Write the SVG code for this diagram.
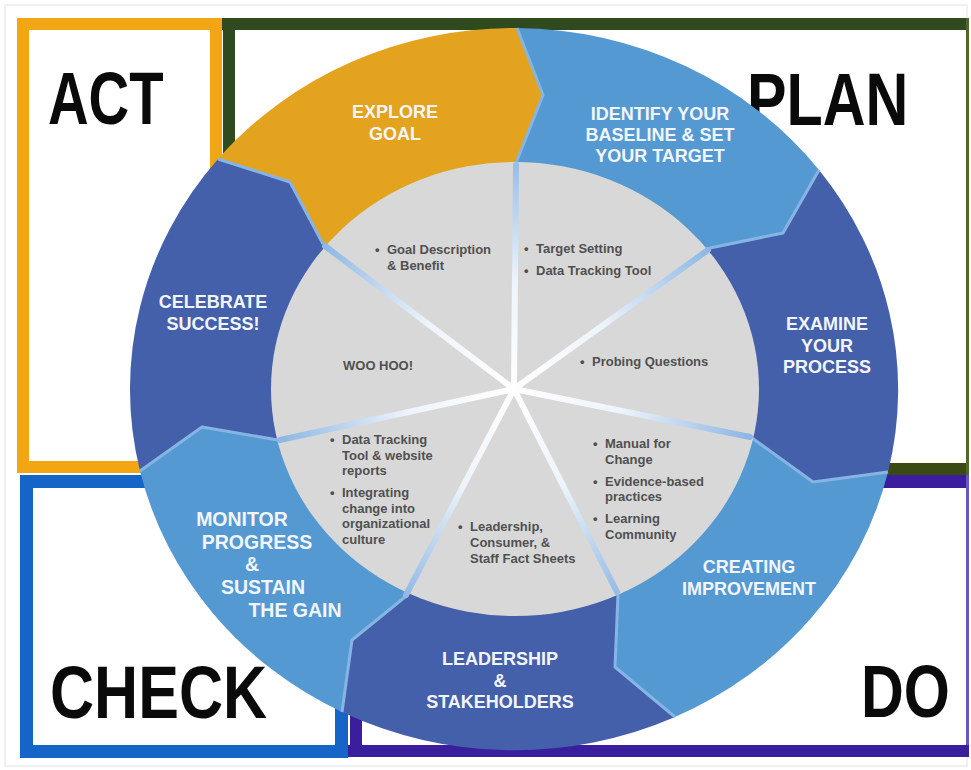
<svg xmlns="http://www.w3.org/2000/svg" width="971" height="770" viewBox="0 0 971 770">
<defs>
<radialGradient id="spokeGrad" gradientUnits="userSpaceOnUse" cx="514" cy="389" r="240">
<stop offset="0" stop-color="#ffffff"/>
<stop offset="0.45" stop-color="#eef4fb"/>
<stop offset="1" stop-color="#8db6e4"/>
</radialGradient>
<style>
.gold{fill:#E3A31F}
.lb{fill:#5599D3}
.db{fill:#4460AB}
.bnd{fill:none;stroke:#86b5e4;stroke-width:3;stroke-linejoin:round}
.spoke{stroke:url(#spokeGrad);stroke-width:6;stroke-linecap:round}
.big{font-family:"Liberation Sans",Arial,sans-serif;font-weight:bold;font-size:75px;fill:#0a0a0a}
.seg{font-family:"Liberation Sans",Arial,sans-serif;font-weight:bold;font-size:18px;fill:#f2f6fb;text-anchor:middle}
.mon{font-size:19.5px}
.in{font-family:"Liberation Sans",Arial,sans-serif;font-weight:bold;font-size:13px;fill:#505050}
</style>
</defs>
<rect x="0" y="0" width="971" height="770" fill="#ffffff"/>
<rect x="5" y="5" width="962" height="761" fill="none" stroke="#ececec" stroke-width="1.5"/>

<g id="frame">
<rect x="23" y="24" width="193" height="443" fill="none" stroke="#F2A614" stroke-width="12"/>
<rect x="222" y="18" width="747" height="12" fill="#2E4A1E"/>
<rect x="223" y="18" width="12" height="160" fill="#2E4A1E"/>
<rect x="840" y="463" width="129" height="12" fill="#3A4A14"/>
<rect x="966" y="18" width="3" height="457" fill="#4B6A2A"/>
<rect x="840" y="475" width="129" height="13" fill="#3B1E9E"/>
<rect x="966" y="475" width="3" height="282" fill="#6A55C8"/>
<rect x="345" y="745" width="624" height="12" fill="#3B1E9E"/>
<rect x="350" y="690" width="12" height="67" fill="#3B1E9E"/>
<rect x="20" y="475" width="160" height="13" fill="#1565C8"/>
<rect x="20" y="475" width="13" height="283" fill="#1565C8"/>
<rect x="20" y="745" width="328" height="13" fill="#1565C8"/>
<rect x="335" y="660" width="13" height="98" fill="#1565C8"/>
</g>

<g id="quadrant-labels">
<text class="big" transform="translate(48,124) scale(0.75,1)">ACT</text>
<text class="big" transform="translate(747,125) scale(0.79,1)">PLAN</text>
<text class="big" transform="translate(50,718) scale(0.814,1)">CHECK</text>
<text class="big" transform="translate(861,717) scale(0.79,1)">DO</text>
</g>

<g id="seg-explore">
<path class="gold" d="M514,389 L323,244 L290,182 L218,159 A384,361 0 0 1 517,28 L543,95 L516,163 Z"/>
<text class="seg" x="395" y="118">EXPLORE</text>
<text class="seg" x="395" y="140">GOAL</text>
</g>
<g id="seg-identify">
<path class="lb" d="M514,389 L516,163 L543,95 L517,28 A384,361 0 0 1 819,170 L783,233 L710,248 Z"/>
<text class="seg" x="660" y="120">IDENTIFY YOUR</text>
<text class="seg" x="660" y="141">BASELINE &amp; SET</text>
<text class="seg" x="660" y="162">YOUR TARGET</text>
</g>
<g id="seg-examine">
<path class="db" d="M514,389 L710,248 L783,233 L819,170 A384,361 0 0 1 888,472 L813,482 L752,438 Z"/>
<text class="seg" x="827" y="330">EXAMINE</text>
<text class="seg" x="827" y="352">YOUR</text>
<text class="seg" x="827" y="373">PROCESS</text>
</g>
<g id="seg-creating">
<path class="lb" d="M514,389 L752,438 L813,482 L888,472 A384,361 0 0 1 675,717 L615,667 L618,594 Z"/>
<text class="seg" x="749" y="573">CREATING</text>
<text class="seg" x="749" y="595">IMPROVEMENT</text>
</g>
<g id="seg-leadership">
<path class="db" d="M514,389 L618,594 L615,667 L675,717 A384,361 0 0 1 342,712 L352,640 L405,597 Z"/>
<text class="seg" x="500" y="665">LEADERSHIP</text>
<text class="seg" x="500" y="687">&amp;</text>
<text class="seg" x="500" y="708">STAKEHOLDERS</text>
</g>
<g id="seg-monitor">
<path class="lb" d="M514,389 L405,597 L352,640 L342,712 A384,361 0 0 1 140,471 L202,427 L278,440 Z"/>
<text class="seg mon" x="242" y="526">MONITOR</text>
<text class="seg mon" x="257" y="549">PROGRESS</text>
<text class="seg mon" x="252" y="571">&amp;</text>
<text class="seg mon" x="263" y="594">SUSTAIN</text>
<text class="seg mon" x="295" y="617">THE GAIN</text>
</g>
<g id="seg-celebrate">
<path class="db" d="M514,389 L278,440 L202,427 L140,471 A384,361 0 0 1 218,159 L290,182 L323,244 Z"/>
<text class="seg" x="213" y="308">CELEBRATE</text>
<text class="seg" x="213" y="330">SUCCESS!</text>
</g>

<g id="connectors">
<polyline class="bnd" points="516,163 543,95 517,28"/>
<polyline class="bnd" points="710,248 783,233 819,170"/>
<polyline class="bnd" points="752,438 813,482 888,472"/>
<polyline class="bnd" points="618,594 615,667 675,717"/>
<polyline class="bnd" points="405,597 352,640 342,712"/>
<polyline class="bnd" points="278,440 202,427 140,471"/>
<polyline class="bnd" points="323,244 290,182 218,159"/>
</g>

<g id="hub">
<ellipse cx="515" cy="389" rx="244" ry="227" fill="#D8D8D8"/>
<line class="spoke" x1="514" y1="389" x2="516" y2="165"/>
<line class="spoke" x1="514" y1="389" x2="708" y2="250"/>
<line class="spoke" x1="514" y1="389" x2="750" y2="437"/>
<line class="spoke" x1="514" y1="389" x2="617" y2="592"/>
<line class="spoke" x1="514" y1="389" x2="406" y2="595"/>
<line class="spoke" x1="514" y1="389" x2="280" y2="440"/>
<line class="spoke" x1="514" y1="389" x2="325" y2="246"/>
</g>

<g id="inner-text">
<text class="in" x="375" y="254">•</text>
<text class="in" x="387" y="254">Goal Description</text>
<text class="in" x="387" y="270">&amp; Benefit</text>

<text class="in" x="524" y="253">•</text>
<text class="in" x="536" y="253">Target Setting</text>
<text class="in" x="524" y="275">•</text>
<text class="in" x="536" y="275">Data Tracking Tool</text>

<text class="in" x="580" y="366">•</text>
<text class="in" x="592" y="366">Probing Questions</text>

<text class="in" x="343" y="370">WOO HOO!</text>

<text class="in" x="330" y="444">•</text>
<text class="in" x="342" y="444">Data Tracking</text>
<text class="in" x="342" y="460">Tool &amp; website</text>
<text class="in" x="342" y="475">reports</text>
<text class="in" x="330" y="497">•</text>
<text class="in" x="342" y="497">Integrating</text>
<text class="in" x="342" y="513">change into</text>
<text class="in" x="342" y="528">organizational</text>
<text class="in" x="342" y="544">culture</text>

<text class="in" x="458" y="531">•</text>
<text class="in" x="470" y="531">Leadership,</text>
<text class="in" x="470" y="547">Consumer, &amp;</text>
<text class="in" x="470" y="563">Staff Fact Sheets</text>

<text class="in" x="593" y="448">•</text>
<text class="in" x="605" y="448">Manual for</text>
<text class="in" x="605" y="464">Change</text>
<text class="in" x="593" y="486">•</text>
<text class="in" x="605" y="486">Evidence-based</text>
<text class="in" x="605" y="501">practices</text>
<text class="in" x="593" y="523">•</text>
<text class="in" x="605" y="523">Learning</text>
<text class="in" x="605" y="539">Community</text>
</g>
</svg>
